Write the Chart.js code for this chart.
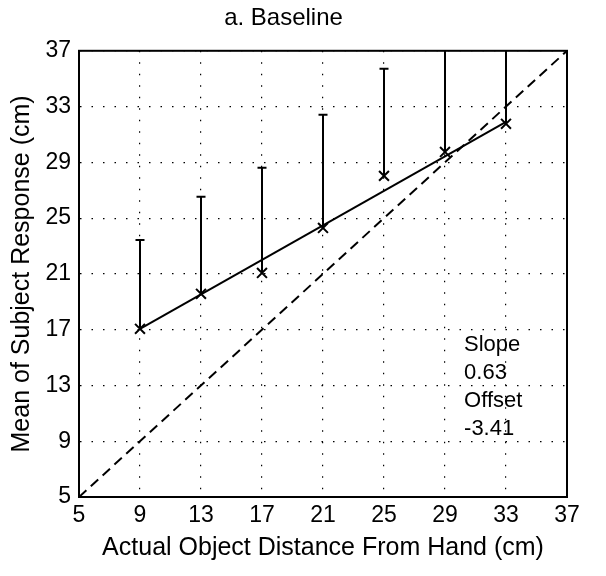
<!DOCTYPE html>
<html>
<head>
<meta charset="utf-8">
<script src="https://cdn.jsdelivr.net/npm/chart.js@4/dist/chart.umd.min.js"></script>
<style>
  html, body { margin: 0; padding: 0; background: #fff; }
  #wrap { width: 606px; height: 576px; }
</style>
</head>
<body>
<div id="wrap"><canvas id="baseline"></canvas></div>
<script>
// data
var distances = [9, 13, 17, 21, 25, 29, 33];
var meanResponse = [17.06, 19.57, 21.07, 24.3, 28.03, 29.75, 31.76];
var upperError = [23.44, 26.53, 28.61, 32.41, 35.71, 39.5, 40.5];
var fitX = [9, 33];
var fitY = [17.06, 31.9];
var identity = [5, 37];
var tickValues = [5, 9, 13, 17, 21, 25, 29, 33, 37];
var fitText = ['Slope', '0.63', 'Offset', '-3.41'];

const baselineCanvas = document.getElementById('baseline');
const fontFam = '"Liberation Sans", Arial, Helvetica, sans-serif';

// vertical error bars (upper only), with a small cap
const errorBars = {
    id: 'errorBars',
    beforeDatasetsDraw(chart) {
        const ctx = chart.ctx;
        const xs = chart.scales.x, ys = chart.scales.y;
        const area = chart.chartArea;
        ctx.save();
        ctx.beginPath();
        ctx.rect(area.left, area.top, area.right - area.left, area.bottom - area.top);
        ctx.clip();
        ctx.strokeStyle = '#000';
        ctx.lineWidth = 2;
        var i = 0;
        while (i < distances.length) {
            var px = xs.getPixelForValue(distances[i]);
            var y0 = ys.getPixelForValue(meanResponse[i]);
            var y1 = ys.getPixelForValue(upperError[i]);
            ctx.beginPath();
            ctx.moveTo(px, y0);
            ctx.lineTo(px, y1);
            ctx.moveTo(px - 4.5, y1);
            ctx.lineTo(px + 4.5, y1);
            ctx.stroke();
            i++;
        }
        ctx.restore();
    },
    afterDraw(chart) {
        const ctx = chart.ctx;
        const xs = chart.scales.x, ys = chart.scales.y;
        ctx.save();
        ctx.fillStyle = '#000';
        ctx.font = '22px ' + fontFam;
        ctx.textBaseline = 'middle';
        var tx = xs.getPixelForValue(30.25);
        var i = 0;
        while (i < fitText.length) {
            ctx.fillText(fitText[i], tx, ys.getPixelForValue(15.91 - i * 2.0));
            i++;
        }
        ctx.restore();
    }
};

const baselineChart = new Chart(baselineCanvas, {
    type: 'scatter',
    data: {
        datasets: [{
            type: 'line',
            label: 'identity',
            data: identity.map(function (v) { return { x: v, y: v }; }),
            borderColor: '#000',
            borderWidth: 2,
            borderDash: [10, 6],
            pointRadius: 0,
            showLine: true
        }, {
            type: 'line',
            label: 'fit',
            data: fitX.map(function (v, i) { return { x: v, y: fitY[i] }; }),
            borderColor: '#000',
            borderWidth: 2,
            pointRadius: 0,
            showLine: true
        }, {
            label: 'mean',
            data: distances.map(function (v, i) { return { x: v, y: meanResponse[i] }; }),
            pointStyle: 'crossRot',
            pointRadius: 7,
            borderColor: '#000',
            borderWidth: 2,
            backgroundColor: '#000'
        }]
    },
    options: {
        responsive: true,
        maintainAspectRatio: false,
        animation: false,
        layout: { padding: { left: 0, right: 39, top: 0, bottom: 0 } },
        plugins: {
            legend: { display: false },
            tooltip: { enabled: false },
            title: {
                display: true,
                text: 'a. Baseline',
                color: '#000',
                font: { family: fontFam, size: 24, weight: 'normal' },
                padding: { top: 4, bottom: 18 }
            }
        },
        scales: {
            x: {
                type: 'linear',
                min: 5,
                max: 37,
                afterBuildTicks: function (s) { s.ticks = tickValues.map(function (v) { return { value: v }; }); },
                afterFit: function (s) { s.height = 79; },
                grid: { color: '#000', lineWidth: 1.2, drawTicks: false },
                border: { display: true, color: '#000', width: 2, dash: [1.5, 10] },
                ticks: { color: '#000', padding: 5, font: { family: fontFam, size: 23 }, maxRotation: 0 },
                title: {
                    display: true,
                    text: 'Actual Object Distance From Hand (cm)',
                    color: '#000',
                    font: { family: fontFam, size: 25 },
                    padding: { top: 0, bottom: 13 }
                }
            },
            y: {
                type: 'linear',
                min: 5,
                max: 37,
                afterBuildTicks: function (s) { s.ticks = tickValues.map(function (v) { return { value: v }; }); },
                afterFit: function (s) { s.width = 79; },
                grid: { color: '#000', lineWidth: 1.2, drawTicks: false },
                border: { display: true, color: '#000', width: 2, dash: [1.5, 10] },
                ticks: { color: '#000', padding: 8, font: { family: fontFam, size: 23 } },
                title: {
                    display: true,
                    text: 'Mean of Subject Response (cm)',
                    color: '#000',
                    font: { family: fontFam, size: 25 },
                    padding: { top: 7, bottom: 0 }
                }
            }
        }
    },
    plugins: [errorBars, {
        id: 'frame',
        afterDatasetsDraw(chart) {
            const a = chart.chartArea, ctx = chart.ctx;
            ctx.save();
            ctx.strokeStyle = '#000';
            ctx.lineWidth = 2;
            ctx.strokeRect(a.left, a.top, a.right - a.left, a.bottom - a.top);
            ctx.restore();
        }
    }]
});
</script>
</body>
</html>
